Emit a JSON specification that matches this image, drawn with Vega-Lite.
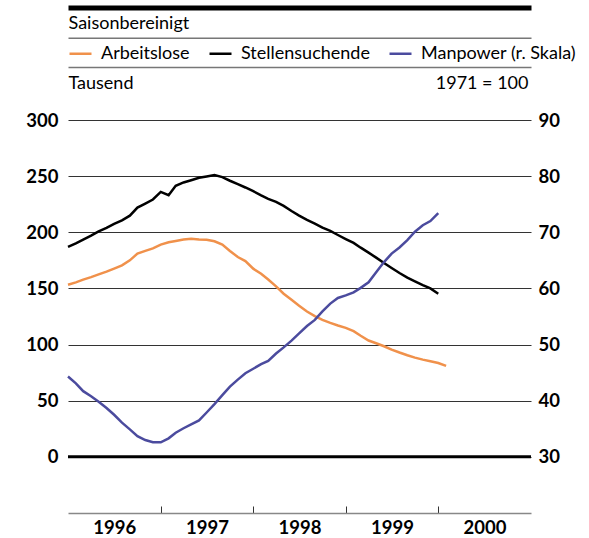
{
  "$schema": "https://vega.github.io/schema/vega-lite/v6.json",
  "width": 463,
  "height": 393,
  "autosize": {"type": "none"},
  "padding": {"left": 68, "top": 120, "right": 58, "bottom": 25},
  "background": "white",
  "config": {"view": {"stroke": null}, "font": "Lato"},
  "data": {"values": [
    {"date":"1996-01-01","series":"Arbeitslose","value":153.3},{"date":"1996-02-01","series":"Arbeitslose","value":155.4},{"date":"1996-03-01","series":"Arbeitslose","value":157.8},{"date":"1996-04-01","series":"Arbeitslose","value":160.1},{"date":"1996-05-01","series":"Arbeitslose","value":162.5},{"date":"1996-06-01","series":"Arbeitslose","value":164.9},{"date":"1996-07-01","series":"Arbeitslose","value":167.6},{"date":"1996-08-01","series":"Arbeitslose","value":170.5},{"date":"1996-09-01","series":"Arbeitslose","value":175.0},{"date":"1996-10-01","series":"Arbeitslose","value":181.0},{"date":"1996-11-01","series":"Arbeitslose","value":183.4},{"date":"1996-12-01","series":"Arbeitslose","value":185.7},
    {"date":"1997-01-01","series":"Arbeitslose","value":189.0},{"date":"1997-02-01","series":"Arbeitslose","value":191.1},{"date":"1997-03-01","series":"Arbeitslose","value":192.3},{"date":"1997-04-01","series":"Arbeitslose","value":193.5},{"date":"1997-05-01","series":"Arbeitslose","value":194.2},{"date":"1997-06-01","series":"Arbeitslose","value":193.5},{"date":"1997-07-01","series":"Arbeitslose","value":193.3},{"date":"1997-08-01","series":"Arbeitslose","value":192.0},{"date":"1997-09-01","series":"Arbeitslose","value":189.0},{"date":"1997-10-01","series":"Arbeitslose","value":183.4},{"date":"1997-11-01","series":"Arbeitslose","value":178.0},{"date":"1997-12-01","series":"Arbeitslose","value":174.4},
    {"date":"1998-01-01","series":"Arbeitslose","value":167.6},{"date":"1998-02-01","series":"Arbeitslose","value":163.1},{"date":"1998-03-01","series":"Arbeitslose","value":158.0},{"date":"1998-04-01","series":"Arbeitslose","value":151.8},{"date":"1998-05-01","series":"Arbeitslose","value":145.3},{"date":"1998-06-01","series":"Arbeitslose","value":139.9},{"date":"1998-07-01","series":"Arbeitslose","value":134.5},{"date":"1998-08-01","series":"Arbeitslose","value":129.5},{"date":"1998-09-01","series":"Arbeitslose","value":125.3},{"date":"1998-10-01","series":"Arbeitslose","value":122.0},{"date":"1998-11-01","series":"Arbeitslose","value":119.3},{"date":"1998-12-01","series":"Arbeitslose","value":117.0},
    {"date":"1999-01-01","series":"Arbeitslose","value":114.9},{"date":"1999-02-01","series":"Arbeitslose","value":111.9},{"date":"1999-03-01","series":"Arbeitslose","value":107.8},{"date":"1999-04-01","series":"Arbeitslose","value":103.6},{"date":"1999-05-01","series":"Arbeitslose","value":101.2},{"date":"1999-06-01","series":"Arbeitslose","value":98.5},{"date":"1999-07-01","series":"Arbeitslose","value":95.5},{"date":"1999-08-01","series":"Arbeitslose","value":92.9},{"date":"1999-09-01","series":"Arbeitslose","value":90.5},{"date":"1999-10-01","series":"Arbeitslose","value":88.4},{"date":"1999-11-01","series":"Arbeitslose","value":86.6},{"date":"1999-12-01","series":"Arbeitslose","value":85.1},
    {"date":"2000-01-01","series":"Arbeitslose","value":83.6},{"date":"2000-02-01","series":"Arbeitslose","value":81.0},
    {"date":"1996-01-01","series":"Stellensuchende","value":187.0},{"date":"1996-02-01","series":"Stellensuchende","value":190.2},{"date":"1996-03-01","series":"Stellensuchende","value":193.5},{"date":"1996-04-01","series":"Stellensuchende","value":197.0},{"date":"1996-05-01","series":"Stellensuchende","value":200.8},{"date":"1996-06-01","series":"Stellensuchende","value":204.0},{"date":"1996-07-01","series":"Stellensuchende","value":207.5},{"date":"1996-08-01","series":"Stellensuchende","value":210.7},{"date":"1996-09-01","series":"Stellensuchende","value":214.8},{"date":"1996-10-01","series":"Stellensuchende","value":222.0},{"date":"1996-11-01","series":"Stellensuchende","value":225.6},{"date":"1996-12-01","series":"Stellensuchende","value":229.2},
    {"date":"1997-01-01","series":"Stellensuchende","value":236.0},{"date":"1997-02-01","series":"Stellensuchende","value":233.0},{"date":"1997-03-01","series":"Stellensuchende","value":241.4},{"date":"1997-04-01","series":"Stellensuchende","value":244.4},{"date":"1997-05-01","series":"Stellensuchende","value":246.4},{"date":"1997-06-01","series":"Stellensuchende","value":248.6},{"date":"1997-07-01","series":"Stellensuchende","value":249.7},{"date":"1997-08-01","series":"Stellensuchende","value":250.9},{"date":"1997-09-01","series":"Stellensuchende","value":249.1},{"date":"1997-10-01","series":"Stellensuchende","value":245.9},{"date":"1997-11-01","series":"Stellensuchende","value":242.9},{"date":"1997-12-01","series":"Stellensuchende","value":239.9},
    {"date":"1998-01-01","series":"Stellensuchende","value":236.6},{"date":"1998-02-01","series":"Stellensuchende","value":232.8},{"date":"1998-03-01","series":"Stellensuchende","value":229.8},{"date":"1998-04-01","series":"Stellensuchende","value":227.1},{"date":"1998-05-01","series":"Stellensuchende","value":223.5},{"date":"1998-06-01","series":"Stellensuchende","value":219.0},{"date":"1998-07-01","series":"Stellensuchende","value":214.9},{"date":"1998-08-01","series":"Stellensuchende","value":211.0},{"date":"1998-09-01","series":"Stellensuchende","value":207.8},{"date":"1998-10-01","series":"Stellensuchende","value":204.2},{"date":"1998-11-01","series":"Stellensuchende","value":201.2},{"date":"1998-12-01","series":"Stellensuchende","value":197.6},
    {"date":"1999-01-01","series":"Stellensuchende","value":194.0},{"date":"1999-02-01","series":"Stellensuchende","value":190.5},{"date":"1999-03-01","series":"Stellensuchende","value":186.3},{"date":"1999-04-01","series":"Stellensuchende","value":181.9},{"date":"1999-05-01","series":"Stellensuchende","value":177.4},{"date":"1999-06-01","series":"Stellensuchende","value":172.6},{"date":"1999-07-01","series":"Stellensuchende","value":168.2},{"date":"1999-08-01","series":"Stellensuchende","value":163.7},{"date":"1999-09-01","series":"Stellensuchende","value":159.6},{"date":"1999-10-01","series":"Stellensuchende","value":156.3},{"date":"1999-11-01","series":"Stellensuchende","value":153.0},{"date":"1999-12-01","series":"Stellensuchende","value":150.0},
    {"date":"2000-01-01","series":"Stellensuchende","value":145.3},
    {"date":"1996-01-01","series":"Manpower (r. Skala)","value":44.3},{"date":"1996-02-01","series":"Manpower (r. Skala)","value":43.1},{"date":"1996-03-01","series":"Manpower (r. Skala)","value":41.7},{"date":"1996-04-01","series":"Manpower (r. Skala)","value":40.8},{"date":"1996-05-01","series":"Manpower (r. Skala)","value":39.8},{"date":"1996-06-01","series":"Manpower (r. Skala)","value":38.7},{"date":"1996-07-01","series":"Manpower (r. Skala)","value":37.5},{"date":"1996-08-01","series":"Manpower (r. Skala)","value":36.1},{"date":"1996-09-01","series":"Manpower (r. Skala)","value":34.9},{"date":"1996-10-01","series":"Manpower (r. Skala)","value":33.7},{"date":"1996-11-01","series":"Manpower (r. Skala)","value":33.0},{"date":"1996-12-01","series":"Manpower (r. Skala)","value":32.6},
    {"date":"1997-01-01","series":"Manpower (r. Skala)","value":32.6},{"date":"1997-02-01","series":"Manpower (r. Skala)","value":33.3},{"date":"1997-03-01","series":"Manpower (r. Skala)","value":34.3},{"date":"1997-04-01","series":"Manpower (r. Skala)","value":35.1},{"date":"1997-05-01","series":"Manpower (r. Skala)","value":35.8},{"date":"1997-06-01","series":"Manpower (r. Skala)","value":36.5},{"date":"1997-07-01","series":"Manpower (r. Skala)","value":37.9},{"date":"1997-08-01","series":"Manpower (r. Skala)","value":39.4},{"date":"1997-09-01","series":"Manpower (r. Skala)","value":41.0},{"date":"1997-10-01","series":"Manpower (r. Skala)","value":42.5},{"date":"1997-11-01","series":"Manpower (r. Skala)","value":43.75},{"date":"1997-12-01","series":"Manpower (r. Skala)","value":44.9},
    {"date":"1998-01-01","series":"Manpower (r. Skala)","value":45.7},{"date":"1998-02-01","series":"Manpower (r. Skala)","value":46.5},{"date":"1998-03-01","series":"Manpower (r. Skala)","value":47.1},{"date":"1998-04-01","series":"Manpower (r. Skala)","value":48.4},{"date":"1998-05-01","series":"Manpower (r. Skala)","value":49.5},{"date":"1998-06-01","series":"Manpower (r. Skala)","value":50.7},{"date":"1998-07-01","series":"Manpower (r. Skala)","value":52.0},{"date":"1998-08-01","series":"Manpower (r. Skala)","value":53.3},{"date":"1998-09-01","series":"Manpower (r. Skala)","value":54.4},{"date":"1998-10-01","series":"Manpower (r. Skala)","value":55.9},{"date":"1998-11-01","series":"Manpower (r. Skala)","value":57.3},{"date":"1998-12-01","series":"Manpower (r. Skala)","value":58.3},
    {"date":"1999-01-01","series":"Manpower (r. Skala)","value":58.75},{"date":"1999-02-01","series":"Manpower (r. Skala)","value":59.3},{"date":"1999-03-01","series":"Manpower (r. Skala)","value":60.1},{"date":"1999-04-01","series":"Manpower (r. Skala)","value":61.1},{"date":"1999-05-01","series":"Manpower (r. Skala)","value":62.9},{"date":"1999-06-01","series":"Manpower (r. Skala)","value":64.7},{"date":"1999-07-01","series":"Manpower (r. Skala)","value":66.2},{"date":"1999-08-01","series":"Manpower (r. Skala)","value":67.3},{"date":"1999-09-01","series":"Manpower (r. Skala)","value":68.6},{"date":"1999-10-01","series":"Manpower (r. Skala)","value":70.1},{"date":"1999-11-01","series":"Manpower (r. Skala)","value":71.25},{"date":"1999-12-01","series":"Manpower (r. Skala)","value":72.0},
    {"date":"2000-01-01","series":"Manpower (r. Skala)","value":73.4}
  ]},
  "layer": [
    {
      "data": {"values": [{}]},
      "mark": {"type": "rule", "color": "black", "strokeWidth": 3},
      "encoding": {
        "x": {"datum": {"year": 1996, "month": 1, "date": 1, "utc": true}, "type": "temporal",
          "scale": {"type": "utc", "domain": [{"year": 1996, "month": 1, "date": 1, "utc": true}, {"year": 2001, "month": 1, "date": 1, "utc": true}]},
          "axis": {"orient": "top", "offset": 112.5, "domain": true, "domainColor": "black", "domainWidth": 5, "ticks": false, "labels": false, "grid": false, "title": null}},
        "x2": {"datum": {"year": 2001, "month": 1, "date": 1, "utc": true}},
        "y": {"datum": 0, "type": "quantitative", "scale": {"domain": [-50, 300]}, "axis": null}
      }
    },
    {
      "transform": [{"filter": "datum.series === 'Arbeitslose'"}],
      "mark": {"type": "line", "strokeWidth": 2.5},
      "encoding": {
        "x": {"field": "date", "type": "temporal",
          "scale": {"type": "utc", "domain": [{"year": 1996, "month": 1, "date": 1, "utc": true}, {"year": 2001, "month": 1, "date": 1, "utc": true}]},
          "axis": {"orient": "bottom", "title": null, "grid": false,
            "values": [{"year": 1996, "month": 1, "date": 1, "utc": true}, {"year": 1997, "month": 1, "date": 1, "utc": true}, {"year": 1998, "month": 1, "date": 1, "utc": true}, {"year": 1999, "month": 1, "date": 1, "utc": true}, {"year": 2000, "month": 1, "date": 1, "utc": true}],
            "labelExpr": "utcFormat(datum.value, '%Y')", "labelOffset": 46.3, "labelFlush": false, "labelOverlap": false,
            "tickSize": -7, "tickWidth": 1,
            "tickColor": {"condition": {"test": "utcFormat(datum.value, '%Y') === '1996'", "value": "transparent"}, "value": "#333333"},
            "domainColor": "#888888", "domainWidth": 1.5, "labelPadding": 12,
            "labelFont": "Lato", "labelFontSize": 18.5, "labelFontWeight": "bold", "labelColor": "black"}},
        "y": {"field": "value", "type": "quantitative", "scale": {"domain": [-50, 300]},
          "axis": {"orient": "left", "values": [0, 50, 100, 150, 200, 250, 300], "grid": true, "gridColor": "#333333", "gridWidth": 1,
            "domain": false, "ticks": false, "labelPadding": 10, "labelFlush": false,
            "labelFont": "Lato", "labelFontSize": 18.5, "labelFontWeight": "bold", "labelColor": "black",
            "title": "Tausend", "titleAngle": 0, "titleX": 0, "titleY": -37, "titleAlign": "left", "titleBaseline": "middle",
            "titleFont": "Lato", "titleFontSize": 18, "titleFontWeight": "normal", "titleColor": "black"}},
        "color": {"field": "series", "type": "nominal",
          "scale": {"domain": ["Arbeitslose", "Stellensuchende", "Manpower (r. Skala)"], "range": ["#F0914B", "#000000", "#4B4B9E"]},
          "legend": {"orient": "none", "legendX": 0, "legendY": -79, "direction": "horizontal", "title": null,
            "symbolType": "stroke", "symbolSize": 484, "symbolStrokeWidth": 2.5, "padding": 0,
            "labelFont": "Lato", "labelFontSize": 18, "labelColor": "black", "labelOffset": 8, "columnPadding": 14}}
      }
    },
    {
      "transform": [{"filter": "datum.series === 'Stellensuchende'"}],
      "mark": {"type": "line", "strokeWidth": 2.5},
      "encoding": {
        "x": {"field": "date", "type": "temporal",
          "scale": {"type": "utc", "domain": [{"year": 1996, "month": 1, "date": 1, "utc": true}, {"year": 2001, "month": 1, "date": 1, "utc": true}]},
          "axis": {"orient": "top", "offset": 53, "domain": true, "domainColor": "#777777", "domainWidth": 1.5, "ticks": false, "labels": false, "grid": false, "title": null}},
        "y": {"field": "value", "type": "quantitative", "scale": {"domain": [-50, 300]}, "axis": null},
        "color": {"field": "series", "type": "nominal",
          "scale": {"domain": ["Arbeitslose", "Stellensuchende", "Manpower (r. Skala)"], "range": ["#F0914B", "#000000", "#4B4B9E"]}}
      }
    },
    {
      "transform": [{"filter": "datum.series === 'Manpower (r. Skala)'"}],
      "mark": {"type": "line", "strokeWidth": 2.5},
      "encoding": {
        "x": {"field": "date", "type": "temporal",
          "scale": {"type": "utc", "domain": [{"year": 1996, "month": 1, "date": 1, "utc": true}, {"year": 2001, "month": 1, "date": 1, "utc": true}]},
          "axis": {"orient": "top", "offset": 82.3, "domain": true, "domainColor": "#777777", "domainWidth": 1.5, "ticks": false, "labels": false, "grid": false,
            "title": "Saisonbereinigt", "titleX": 0, "titleY": -9, "titleAlign": "left", "titleBaseline": "alphabetic", "titleAngle": 0,
            "titleFont": "Lato", "titleFontSize": 18, "titleFontWeight": "normal", "titleColor": "black"}},
        "y": {"field": "value", "type": "quantitative", "scale": {"domain": [20, 90]},
          "axis": {"orient": "right", "values": [30, 40, 50, 60, 70, 80, 90], "grid": false, "domain": false, "ticks": false, "labelPadding": 7, "labelFlush": false,
            "labelFont": "Lato", "labelFontSize": 18.5, "labelFontWeight": "bold", "labelColor": "black",
            "title": "1971 = 100", "titleAngle": 0, "titleX": -3, "titleY": -37, "titleAlign": "right", "titleBaseline": "middle",
            "titleFont": "Lato", "titleFontSize": 18, "titleFontWeight": "normal", "titleColor": "black"}},
        "color": {"field": "series", "type": "nominal",
          "scale": {"domain": ["Arbeitslose", "Stellensuchende", "Manpower (r. Skala)"], "range": ["#F0914B", "#000000", "#4B4B9E"]}}
      }
    }
  ],
  "resolve": {"scale": {"y": "independent"}, "axis": {"x": "independent", "y": "independent"}}
}
